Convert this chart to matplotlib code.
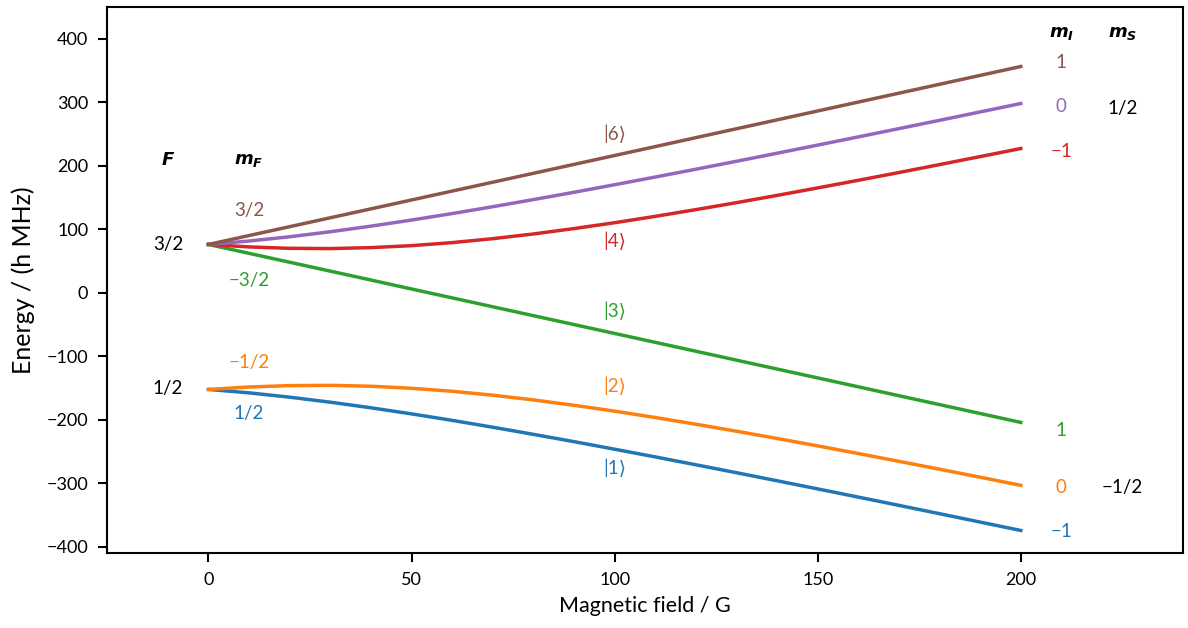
import matplotlib
matplotlib.use("Agg")
import matplotlib.pyplot as plt

plt.rcParams['font.family'] = ['Lato', 'DejaVu Sans']
plt.rcParams['mathtext.fontset'] = 'dejavusans'

# magnetic field (G) and level energies (h MHz), 6Li ground state
field = [0, 10, 20, 30, 40, 50, 60, 70, 80, 90, 100,
         110, 120, 130, 140, 150, 160, 170, 180, 190, 200]

e1 = [-152.1, -157.5, -164.3, -172.2, -181.0, -190.6, -200.8, -211.6, -222.8, -234.3, -246.2,
      -258.3, -270.7, -283.2, -295.9, -308.7, -321.6, -334.6, -347.7, -360.9, -374.1]
e2 = [-152.1, -148.3, -146.1, -145.7, -147.1, -150.3, -155.0, -161.2, -168.6, -177.1, -186.3,
      -196.3, -206.9, -217.9, -229.3, -241.0, -253.0, -265.3, -277.7, -290.3, -303.1]
e3 = [76.1, 62.1, 48.1, 34.1, 20.1, 6.0, -8.0, -22.0, -36.0, -50.0, -64.0,
      -78.0, -92.0, -106.0, -120.0, -134.0, -148.0, -162.0, -176.0, -190.0, -204.0]
e4 = [76.1, 72.2, 70.0, 69.6, 71.1, 74.2, 79.0, 85.2, 92.6, 101.1, 110.3,
      120.3, 130.9, 141.9, 153.3, 165.1, 177.1, 189.3, 201.8, 214.4, 227.1]
e5 = [76.1, 81.5, 88.2, 96.1, 104.9, 114.5, 124.7, 135.5, 146.7, 158.2, 170.1,
      182.2, 194.5, 207.0, 219.7, 232.5, 245.4, 258.4, 271.5, 284.7, 297.9]
e6 = [76.1, 90.1, 104.1, 118.1, 132.1, 146.1, 160.1, 174.1, 188.1, 202.1, 216.1,
      230.1, 244.2, 258.2, 272.2, 286.2, 300.2, 314.2, 328.2, 342.2, 356.2]

levels = [e1, e2, e3, e4, e5, e6]
colors = ['tab:blue', 'tab:orange', 'tab:green', 'tab:red', 'tab:purple', 'tab:brown']

# labels on the left (zero field)
F_labels = ['3/2', '1/2']
F_y = [76, -150]
mF_labels = ['3/2', '\u22123/2', '\u22121/2', '1/2']
mF_y = [130, 20, -110, -190]
mF_colors = ['tab:brown', 'tab:green', 'tab:orange', 'tab:blue']

# ket labels in the middle
kets = ['|6\u27e9', '|4\u27e9', '|3\u27e9', '|2\u27e9', '|1\u27e9']
ket_y = [250, 82, -28, -146, -276]
ket_colors = ['tab:brown', 'tab:red', 'tab:green', 'tab:orange', 'tab:blue']

# labels on the right (high field)
mI_labels = ['1', '0', '\u22121', '1', '0', '\u22121']
mI_y = [362, 293, 222, -216, -306, -376]
mI_colors = ['tab:brown', 'tab:purple', 'tab:red', 'tab:green', 'tab:orange', 'tab:blue']
mS_labels = ['1/2', '\u22121/2']
mS_y = [290, -307]

fig, ax = plt.subplots(figsize=(11.88, 6.28), dpi=100)
fig.subplots_adjust(left=0.090, right=0.996, top=0.989, bottom=0.119)

for e, c in zip(levels, colors):
    ax.plot(field, e, color=c, lw=2.5)

fs = 13.5
ax.text(-10, 210, r'$\mathbfit{F}$', ha='center', va='center', fontsize=13)
ax.text(10, 208, r'$\mathbfit{m_F}$', ha='center', va='center', fontsize=13)
for lab, y in zip(F_labels, F_y):
    ax.text(-10, y, lab, ha='center', va='center', fontsize=fs)
for lab, y, c in zip(mF_labels, mF_y, mF_colors):
    ax.text(10, y, lab, ha='center', va='center', fontsize=fs, color=c)

for lab, y, c in zip(kets, ket_y, ket_colors):
    ax.text(100, y, lab, ha='center', va='center', fontsize=fs, color=c)

ax.text(210, 408, r'$\mathbfit{m_I}$', ha='center', va='center', fontsize=13)
ax.text(225, 408, r'$\mathbfit{m_S}$', ha='center', va='center', fontsize=13)
for lab, y, c in zip(mI_labels, mI_y, mI_colors):
    ax.text(210, y, lab, ha='center', va='center', fontsize=fs, color=c)
for lab, y in zip(mS_labels, mS_y):
    ax.text(225, y, lab, ha='center', va='center', fontsize=fs)

ax.set_xlim(-25, 240)
ax.set_ylim(-410, 450)
ax.set_xticks([0, 50, 100, 150, 200])
ax.set_yticks(range(-400, 401, 100))
ax.set_xlabel('Magnetic field / G', fontsize=15.5, labelpad=6)
ax.set_ylabel('Energy / (h MHz)', fontsize=18, labelpad=8)
ax.tick_params(labelsize=13, width=1.5, length=6.5, pad=7)
for s in ax.spines.values():
    s.set_linewidth(1.5)

plt.savefig('out.png', dpi=100)
